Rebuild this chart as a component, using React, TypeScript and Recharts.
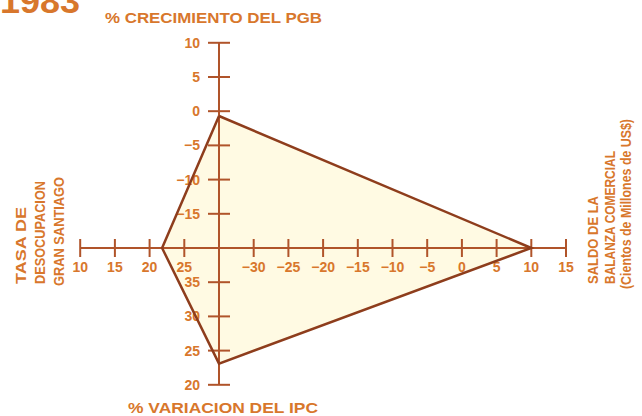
import React from 'react';
import { ScatterChart, Scatter, XAxis, YAxis } from 'recharts';

// 1983 values
const pgbGrowth = -0.7;
const unemployment = 21.8;
const tradeBalance = 10;
const cpiChange = 23.1;

// tick labels of each axis
const pgbTicks = [10, 5, 0, -5, -10, -15];
const cpiTicks = [35, 30, 25, 20];
const unempTicks = [10, 15, 20, 25];
const balanceTicks = [-30, -25, -20, -15, -10, -5, 0, 5, 10, 15];

// every axis meets the centre at its own value; one tick step = 5 units
const pgbAtCentre = -20;
const cpiAtCentre = 40;
const unempAtCentre = 30;
const balanceAtCentre = -35;

const TEXT = '#d8772c';
const AXIS = '#b0542a';
const LINE = '#8e3d1c';
const FILL = '#fffae3';
const FONT = '"Liberation Sans", Arial, Helvetica, sans-serif';

const upPos = (v: number) => (v - pgbAtCentre) / 5;
const downPos = (v: number) => -(cpiAtCentre - v) / 5;
const leftPos = (v: number) => -(unempAtCentre - v) / 5;
const rightPos = (v: number) => (v - balanceAtCentre) / 5;

const fmt = (v: number) => (v < 0 ? `\u2212${Math.abs(v)}` : `${v}`);

const polygon = [
  { x: 0, y: upPos(pgbGrowth) },
  { x: rightPos(tradeBalance), y: 0 },
  { x: 0, y: downPos(cpiChange) },
  { x: leftPos(unemployment), y: 0 },
  { x: 0, y: upPos(pgbGrowth) },
];

const verticalAxis = [
  { x: 0, y: upPos(pgbTicks[0]) },
  { x: 0, y: downPos(cpiTicks[cpiTicks.length - 1]) },
];
const horizontalAxis = [
  { x: leftPos(unempTicks[0]), y: 0 },
  { x: rightPos(balanceTicks[balanceTicks.length - 1]), y: 0 },
];

const vTicks = [
  ...pgbTicks.map(v => ({ x: 0, y: upPos(v), label: fmt(v) })),
  ...cpiTicks.map(v => ({ x: 0, y: downPos(v), label: `${v}` })),
];
const hTicks = [
  ...unempTicks.map(v => ({ x: leftPos(v), y: 0, label: `${v}` })),
  ...balanceTicks.map(v => ({ x: rightPos(v), y: 0, label: fmt(v) })),
];

const Nothing = () => <g />;

const VTick = (props: any) => {
  const { cx, cy, payload } = props;
  return (
    <g>
      <line x1={cx - 11} x2={cx + 11} y1={cy} y2={cy} stroke={AXIS} strokeWidth={2} />
      <text x={cx - 19} y={cy + 5} textAnchor="end" fill={TEXT} fontSize={14} fontWeight={700} fontFamily={FONT}>
        {payload.label}
      </text>
    </g>
  );
};

const HTick = (props: any) => {
  const { cx, cy, payload } = props;
  return (
    <g>
      <line x1={cx} x2={cx} y1={cy - 9} y2={cy + 9} stroke={AXIS} strokeWidth={2} />
      <text x={cx} y={cy + 24} textAnchor="middle" fill={TEXT} fontSize={14} fontWeight={700} fontFamily={FONT}>
        {payload.label}
      </text>
    </g>
  );
};

const W = 642;
const H = 416;

export default function App() {
  return (
    <div style={{ position: 'absolute', left: 0, top: 0, width: W, height: H, background: '#fff' }}>
      <ScatterChart width={W} height={H} margin={{ top: 0, right: 0, bottom: 0, left: 0 }}>
        <XAxis type="number" dataKey="x" hide domain={[-6.311, 12.19]} allowDataOverflow />
        <YAxis type="number" dataKey="y" hide domain={[-4.912, 7.251]} allowDataOverflow />
        <Scatter
          data={polygon}
          shape={Nothing}
          line={{ fill: FILL, stroke: 'none' }}
          isAnimationActive={false}
        />
        <Scatter data={verticalAxis} shape={Nothing} line={{ stroke: AXIS, strokeWidth: 2 }} isAnimationActive={false} />
        <Scatter data={horizontalAxis} shape={Nothing} line={{ stroke: AXIS, strokeWidth: 2 }} isAnimationActive={false} />
        <Scatter data={vTicks} shape={VTick} isAnimationActive={false} />
        <Scatter data={hTicks} shape={HTick} isAnimationActive={false} />
        <Scatter
          data={polygon}
          shape={Nothing}
          line={{ fill: 'none', stroke: LINE, strokeWidth: 2.5, strokeLinejoin: 'miter' }}
          isAnimationActive={false}
        />
      </ScatterChart>
      <svg width={W} height={H} style={{ position: 'absolute', left: 0, top: 0, pointerEvents: 'none' }}>
        <g fill={TEXT} fontFamily={FONT} fontWeight={700}>
          <text x={0} y={13} fontSize={34} textLength={80} lengthAdjust="spacingAndGlyphs">1983</text>
          <text x={105} y={23} fontSize={14} textLength={217} lengthAdjust="spacingAndGlyphs">% CRECIMIENTO DEL PGB</text>
          <text x={128} y={413} fontSize={14} textLength={190} lengthAdjust="spacingAndGlyphs">% VARIACION DEL IPC</text>
          <text transform="translate(26,284) rotate(-90)" fontSize={15} textLength={77} lengthAdjust="spacingAndGlyphs">TASA DE</text>
          <text transform="translate(45,284) rotate(-90)" fontSize={15} textLength={103} lengthAdjust="spacingAndGlyphs">DESOCUPACION</text>
          <text transform="translate(64,286) rotate(-90)" fontSize={15} textLength={109} lengthAdjust="spacingAndGlyphs">GRAN SANTIAGO</text>
          <text transform="translate(598,284) rotate(-90)" fontSize={15} textLength={88} lengthAdjust="spacingAndGlyphs">SALDO DE LA</text>
          <text transform="translate(615,284) rotate(-90)" fontSize={15} textLength={133} lengthAdjust="spacingAndGlyphs">BALANZA COMERCIAL</text>
          <text transform="translate(631,289) rotate(-90)" fontSize={14} textLength={170} lengthAdjust="spacingAndGlyphs">(Cientos de Millones de US$)</text>
        </g>
      </svg>
    </div>
  );
}
